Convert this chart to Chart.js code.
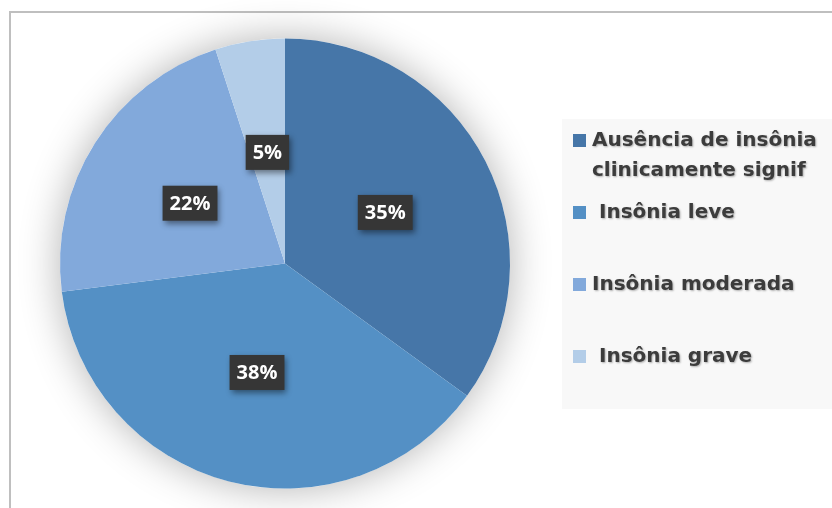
<!DOCTYPE html>
<html>
<head>
<meta charset="utf-8">
<script src="https://cdn.jsdelivr.net/npm/chart.js@4/dist/chart.umd.min.js"></script>
<style>
  html, body { margin: 0; padding: 0; background: #fff; }
  #wrap { width: 832px; height: 508px; position: relative; }
</style>
</head>
<body>
<div id="wrap"><canvas id="myChart"></canvas></div>
<script>
const categories = [
    ["Ausência de insônia", "clinicamente signif"],
    [" Insônia leve"],
    ["Insônia moderada"],
    [" Insônia grave"]
];
const percentages = [35, 38, 22, 5];
const sliceColors = ['#4676a8', '#5490c5', '#82a9db', '#b3cde8'];

// frame lines + soft halo under the pie
const backdrop = {
    id: 'backdrop',
    beforeDraw(chart) {
        const c = chart.ctx;
        c.save();
        c.fillStyle = '#fff';
        c.fillRect(0, 0, chart.width, chart.height);
        c.strokeStyle = '#bfbfbf';
        c.lineWidth = 2;
        c.beginPath();
        c.moveTo(10, 508);
        c.lineTo(10, 12);
        c.lineTo(832, 12);
        c.stroke();
        c.restore();
    },
    beforeDatasetsDraw(chart) {
        const arc = chart.getDatasetMeta(0).data[0];
        if (!arc) return;
        const c = chart.ctx;
        c.save();
        c.shadowColor = 'rgba(0,0,0,0.3)';
        c.shadowBlur = 40;
        c.fillStyle = '#fff';
        c.beginPath();
        c.arc(arc.x, arc.y, arc.outerRadius, 0, Math.PI * 2);
        c.fill();
        c.restore();
    }
};

// dark boxed percentage labels
const boxLabels = {
    id: 'boxLabels',
    afterDatasetsDraw(chart) {
        const c = chart.ctx;
        const meta = chart.getDatasetMeta(0);
        c.save();
        c.font = 'bold 20px "Open Sans", "DejaVu Sans", sans-serif';
        c.textAlign = 'center';
        c.textBaseline = 'middle';
        meta.data.forEach(function(arc, i) {
            const p = arc.getCenterPoint();
            const txt = percentages[i] + '%';
            const w = c.measureText(txt).width + 14;
            const h = 35;
            c.save();
            c.shadowColor = 'rgba(0,0,0,0.45)';
            c.shadowBlur = 6;
            c.shadowOffsetX = 2;
            c.shadowOffsetY = 3;
            c.fillStyle = '#363636';
            c.fillRect(p.x - w / 2, p.y - h / 2, w, h);
            c.restore();
            c.fillStyle = '#ffffff';
            c.fillText(txt, p.x, p.y + 1);
        });
        c.restore();
    }
};

// legend panel on the right
const sideLegend = {
    id: 'sideLegend',
    afterDraw(chart) {
        const c = chart.ctx;
        const rowY = [141, 213, 285, 357];
        c.save();
        c.fillStyle = '#f8f8f8';
        c.fillRect(562, 119, 270, 290);
        c.font = 'bold 20px "DejaVu Sans", Verdana, sans-serif';
        c.textBaseline = 'middle';
        c.textAlign = 'left';
        categories.forEach(function(lines, i) {
            c.fillStyle = sliceColors[i];
            c.fillRect(573, rowY[i] - 7, 13, 13);
            lines.forEach(function(line, j) {
                c.save();
                c.shadowColor = 'rgba(0,0,0,0.3)';
                c.shadowBlur = 2;
                c.shadowOffsetX = 1;
                c.shadowOffsetY = 1;
                c.fillStyle = '#3c3c3c';
                c.fillText(line, 592, rowY[i] + j * 30);
                c.restore();
            });
        });
        c.restore();
    }
};

new Chart(document.getElementById('myChart'), {
    type: 'pie',
    data: {
        labels: categories.map(function(l) { return l.join(' ').trim(); }),
        datasets: [{
            data: percentages,
            backgroundColor: sliceColors,
            borderWidth: 0
        }]
    },
    options: {
        responsive: true,
        maintainAspectRatio: false,
        animation: false,
        layout: { padding: { left: 60, right: 322, top: 38, bottom: 19 } },
        plugins: {
            legend: { display: false },
            tooltip: { enabled: false }
        }
    },
    plugins: [backdrop, boxLabels, sideLegend]
});
</script>
</body>
</html>
